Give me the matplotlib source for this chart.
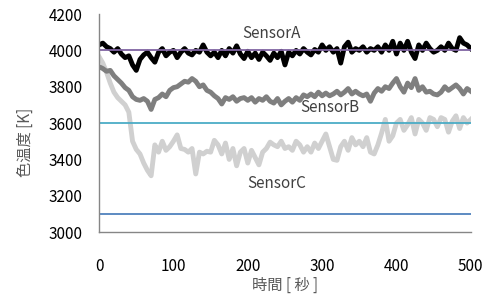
import numpy as np
import matplotlib
matplotlib.use("Agg")
import matplotlib.pyplot as plt

plt.rcParams['font.family'] = ['Noto Sans CJK JP', 'DejaVu Sans']

# time axis [s], one reading every 5 s
time_s = list(range(0, 501, 5))

sensor_a = [4030, 4040, 4020, 4010, 3990, 4010, 3980, 3960, 3970, 3920, 3890,
            3950, 3975, 3990, 3960, 3935, 3990, 4010, 3970, 3990, 4000,
            3960, 3990, 4010, 3985, 3975, 4000, 3990, 4030, 3990, 3970,
            3990, 3960, 4000, 3970, 4010, 3985, 4025, 3980, 3955, 3995,
            3960, 3985, 3950, 3990, 3970, 3945, 3985, 3960, 3995, 3920,
            3990, 3970, 4000, 3980, 4010, 3990, 3975, 4005, 3990, 4030,
            4000, 4020, 3990, 4010, 3930, 4020, 4045, 3990, 4010, 4000,
            4020, 3990, 4010, 4000, 4020, 3990, 4030, 4000, 4050, 3980,
            4040, 4000, 4050, 3990, 3955, 4030, 4000, 4040, 4010, 3990,
            4000, 4020, 4000, 4040, 4010, 4000, 4070, 4040, 4030, 4010]

sensor_b = [3910, 3900, 3885, 3890, 3860, 3840, 3820, 3795, 3780, 3745, 3730,
            3725, 3735, 3720, 3675, 3730, 3740, 3760, 3745, 3780, 3795,
            3800, 3815, 3830, 3825, 3845, 3830, 3800, 3810, 3780, 3770,
            3750, 3735, 3705, 3740, 3730, 3745, 3720, 3735, 3740, 3725,
            3740, 3715, 3735, 3725, 3745, 3720, 3710, 3735, 3700, 3720,
            3735, 3715, 3740, 3725, 3755, 3745, 3760, 3745, 3770, 3750,
            3765, 3750, 3760, 3775, 3755, 3770, 3790, 3760, 3775, 3760,
            3750, 3760, 3720, 3765, 3790, 3775, 3800, 3790, 3820, 3845,
            3800, 3770, 3820, 3795, 3845, 3780, 3800, 3770, 3775, 3760,
            3755, 3770, 3800, 3780, 3795, 3810, 3790, 3760, 3790, 3775]

sensor_c = [3965, 3930, 3880, 3820, 3770, 3740, 3720, 3700, 3660, 3500, 3455,
            3430, 3380, 3340, 3310, 3480, 3440, 3500, 3450, 3470, 3500,
            3535, 3460, 3455, 3440, 3460, 3320, 3440, 3430, 3445, 3440,
            3505, 3480, 3430, 3490, 3400, 3460, 3365, 3440, 3460, 3380,
            3450, 3410, 3370, 3440, 3460, 3495, 3480, 3470, 3500, 3460,
            3470, 3450, 3500, 3480, 3440, 3470, 3440, 3490, 3460, 3500,
            3540, 3470, 3400, 3395, 3470, 3500, 3450, 3520, 3480, 3500,
            3470, 3520, 3440, 3430, 3480, 3545, 3620, 3500, 3530, 3600,
            3620, 3560, 3590, 3630, 3540, 3620, 3600, 3560, 3630, 3620,
            3580, 3630, 3620, 3550, 3610, 3640, 3570, 3630, 3600, 3620]

# reference levels
ref_levels = [4000, 3600, 3100]
ref_colors = ['#8064A2', '#4BACC6', '#4F81BD']

labels = ['SensorA', 'SensorB', 'SensorC']
label_pos = [(232, 4095), (311, 3688), (239, 3270)]

fig = plt.figure(figsize=(4.93, 3.05), dpi=100)
ax = fig.add_axes([0.201, 0.239, 0.754, 0.715])

ax.plot(time_s, sensor_c, color='#d0d0d0', linewidth=3.5)
ax.plot(time_s, sensor_b, color='#7f7f7f', linewidth=3.5)
ax.plot(time_s, sensor_a, color='black', linewidth=3.5)

for lvl, col in zip(ref_levels, ref_colors):
    ax.plot([0, 500], [lvl, lvl], color=col, linewidth=1.3)

for name, (tx, ty) in zip(labels, label_pos):
    ax.text(tx, ty, name, fontsize=11, color='#404040', ha='center', va='center')

ax.set_xlim(0, 500)
ax.set_ylim(3000, 4200)
ax.set_xticks(range(0, 501, 100))
ax.set_yticks(range(3000, 4201, 200))

for side in ['top', 'right']:
    ax.spines[side].set_visible(False)
for side in ['left', 'bottom']:
    ax.spines[side].set_color('#868686')
    ax.spines[side].set_linewidth(1.0)

ax.tick_params(axis='both', length=0, labelsize=11)
ax.tick_params(axis='x', pad=19)
ax.tick_params(axis='y', pad=12)

ax.set_xlabel('時間 [ 秒 ]', fontsize=11, color='#595959')
ax.set_ylabel('色温度 [K]', fontsize=11, color='#595959')
ax.xaxis.set_label_coords(0.5, -0.206)
ax.yaxis.set_label_coords(-0.177, 0.413)

fig.savefig('out.png', dpi=100)
